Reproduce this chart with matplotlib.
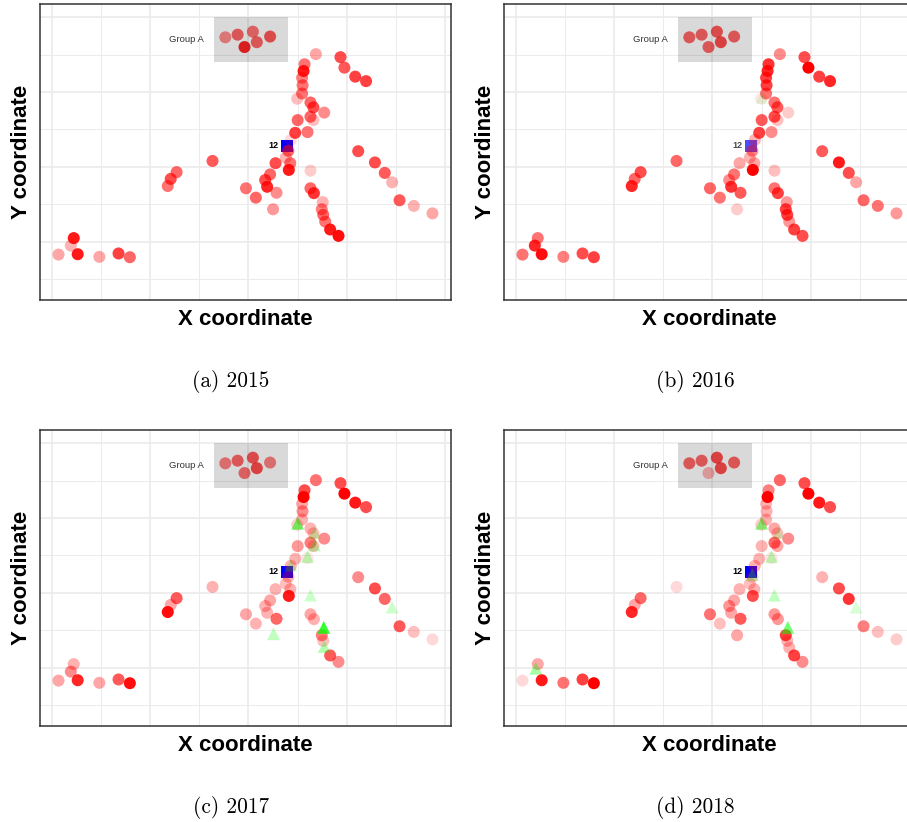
import numpy as np
import matplotlib.pyplot as plt
from matplotlib.patches import Rectangle

# ---- data ----
captions = ["(a) 2015", "(b) 2016", "(c) 2017", "(d) 2018"]

# red circles: same locations every year, only the opacity changes
pt_x = [3.53, 3.78, 4.09, 4.17, 3.92, 4.44,
        5.37, 5.87, 5.95, 6.17, 6.39,
        5.14, 5.12, 5.09, 5.10, 5.09, 4.99,
        5.26, 5.32, 5.54, 5.26, 5.32, 5.00, 4.95, 5.20, 4.86,
        4.81, 4.76, 4.85, 4.55, 4.82, 5.26,
        4.44, 4.34, 4.38, 4.57, 3.95, 4.15, 4.50,
        5.26, 5.33, 5.51, 5.49, 5.52, 5.56, 5.66, 5.83,
        6.23, 6.57, 6.77, 6.92, 7.07, 7.36, 7.74,
        3.27,
        2.54, 2.42, 2.36,
        0.45, 0.39, 0.53, 0.14, 0.97, 1.36, 1.59]
pt_y = [6.46, 6.53, 6.61, 6.33, 6.20, 6.48,
        6.01, 5.93, 5.65, 5.41, 5.29,
        5.74, 5.56, 5.38, 5.18, 4.96, 4.82,
        4.72, 4.59, 4.45, 4.34, 4.25, 4.25, 3.91, 3.93, 3.72,
        3.43, 3.25, 3.10, 3.10, 2.92, 2.90,
        2.80, 2.65, 2.47, 2.31, 2.43, 2.18, 1.87,
        2.43, 2.30, 2.06, 1.87, 1.72, 1.54, 1.33, 1.16,
        3.42, 3.12, 2.84, 2.59, 2.11, 1.96, 1.76,
        3.16,
        2.86, 2.68, 2.49,
        1.10, 0.90, 0.67, 0.66, 0.60, 0.69, 0.59]

alpha_2015 = [.45, .6, .55, .6, .85, .65,
              .35, .7, .65, .75, .75,
              .55, .9, .5, .55, .55, .25,
              .6, .7, .45, .6, .25, .6, .75, .55, .15,
              .6, .3, .55, .7, .9, .2,
              .6, .7, .85, .45, .55, .6, .4,
              .6, .8, .3, .5, .6, .55, .9, .95,
              .7, .7, .65, .3, .65, .3, .35,
              .65,
              .6, .7, .55,
              .9, .3, .9, .35, .35, .75, .6]
alpha_2016 = [.6, .6, .65, .7, .6, .6,
              .45, .7, 1.0, .75, .85,
              .8, .85, .75, .75, .55, .1,
              .55, .65, .2, .7, .25, .65, .75, .45, .3,
              .45, .3, .35, .35, 1.0, .25,
              .55, .45, .8, .65, .6, .55, .2,
              .55, .75, .4, .75, .75, .4, .75, .7,
              .65, .9, .7, .35, .6, .55, .4,
              .6,
              .7, .6, .85,
              .55, .85, .95, .55, .5, .7, .75]
alpha_2017 = [.5, .6, .65, .7, .55, .5,
              .55, .7, 1.0, .9, .7,
              .7, 1.0, .35, .45, .3, .2,
              .3, .25, .45, .5, .25, .4, .3, .1, .3,
              .3, .25, .3, .3, .9, 0,
              .35, .3, .3, .6, .35, .3, 0,
              .35, .3, 0, .5, .25, 0, .65, .45,
              .45, .7, .6, 0, .65, .25, .15,
              .3,
              .65, .35, .95,
              .3, .45, .85, .35, .35, .65, .95]
alpha_2018 = [.6, .6, .7, .7, .3, .6,
              .6, .7, 1.0, .9, .7,
              .5, 1.0, .3, .3, .3, .2,
              .35, .25, .45, .6, .35, .3, .3, .1, .3,
              .2, .25, .3, .3, .7, 0,
              .35, .4, .35, .65, .55, .25, .35,
              .4, .4, 0, .75, .3, .3, .75, .45,
              .3, .7, .8, 0, .5, .25, .2,
              .15,
              .6, .35, .85,
              .35, 0, .9, .15, .55, .75, 1.0]

# green triangles
tri_x = [5.00, 5.34, 5.34, 5.20, 4.86, 5.26, 5.53, 5.54, 4.51, 6.92, 4.81, 0.41]
tri_y = [4.86, 4.61, 4.28, 3.97, 3.74, 2.94, 2.08, 1.57, 1.91, 2.62, 3.49, 0.99]
tri_alpha_2015 = [0, 0, 0, 0, 0, 0, 0, 0, 0, 0, 0, 0]
tri_alpha_2016 = [.1, 0, 0, 0, 0, 0, 0, 0, 0, 0, 0, 0]
tri_alpha_2017 = [.55, .2, .25, .25, .2, .2, .8, .3, .25, .2, 0, 0]
tri_alpha_2018 = [.45, .15, 0, .25, 0, .25, .55, 0, 0, .15, .25, .35]

# blue square with its label
sq_x, sq_y = 4.78, 3.57
sq_label = "12"
sq_alpha = [1.0, 0.7, 1.0, 1.0]

# shaded group box
box_x0, box_x1, box_y0, box_y1 = 3.30, 4.80, 5.81, 6.99
box_label = "Group A"
box_label_x, box_label_y = 2.74, 6.40

circle_alphas = [alpha_2015, alpha_2016, alpha_2017, alpha_2018]
tri_alphas = [tri_alpha_2015, tri_alpha_2016, tri_alpha_2017, tri_alpha_2018]

# ---- figure ----
W, H = 907, 822
fig = plt.figure(figsize=(W / 100, H / 100), dpi=100)

panel_px = [(40.3, 4), (504.3, 4), (40.3, 430), (504.3, 430)]   # top-left of each axes
caption_px = [(231, 387.3), (695, 387.3), (231, 813.3), (695, 813.3)]
aw, ah = 410.7, 296

for i in range(4):
    left, top = panel_px[i]
    ax = fig.add_axes([left / W, 1 - (top + ah) / H, aw / W, ah / H])

    # grid like ggplot theme_bw
    ax.set_xticks([0, 2, 4, 6, 8])
    ax.set_xticks([1, 3, 5, 7], minor=True)
    ax.set_yticks([1, 3, 5, 7])
    ax.set_yticks([0, 2, 4, 6], minor=True)
    ax.tick_params(which='both', length=0, labelbottom=False, labelleft=False)
    ax.grid(which='major', color='#EBEBEB', lw=1.2)
    ax.grid(which='minor', color='#EBEBEB', lw=0.7)
    ax.set_axisbelow(True)
    for s in ax.spines.values():
        s.set_color('#333333')
        s.set_linewidth(1.1)

    ax.scatter([sq_x], [sq_y], marker='s', s=71, color='#0000FF',
               alpha=sq_alpha[i], linewidths=0, zorder=2)

    a = np.array(circle_alphas[i])
    keep = a > 0
    cols = [(1, 0, 0, v) for v in a[keep]]
    ax.scatter(np.array(pt_x)[keep], np.array(pt_y)[keep], s=75, c=cols,
               edgecolors='none', zorder=3)

    ta = np.array(tri_alphas[i])
    tk = ta > 0
    if tk.any():
        tcols = [(0, 1, 0, v) for v in ta[tk]]
        ax.scatter(np.array(tri_x)[tk], np.array(tri_y)[tk], marker='^', s=85,
                   c=tcols, edgecolors='none', zorder=4)

    ax.add_patch(Rectangle((box_x0, box_y0), box_x1 - box_x0, box_y1 - box_y0,
                           facecolor='black', alpha=0.15, edgecolor='none', zorder=5))
    ax.text(box_label_x, box_label_y, box_label, ha='center', va='center',
            fontsize=6.8, color='#333333', family='Liberation Sans', zorder=6)
    ax.annotate(sq_label, (sq_x, sq_y), xytext=(-6.1, 0), textcoords='offset points',
                ha='right', va='center', fontsize=6.5, fontweight='bold',
                family='Liberation Sans', alpha=sq_alpha[i], zorder=6)

    ax.set_xlim(-0.23, 8.116)
    ax.set_ylim(-0.552, 7.349)

    ax.set_xlabel("X coordinate", fontsize=16, fontweight='bold', family='Liberation Sans')
    ax.xaxis.set_label_coords(0.5, -0.0845)
    ax.xaxis.label.set_va('baseline')
    ax.set_ylabel("Y coordinate", fontsize=16, fontweight='bold', family='Liberation Sans')
    ax.yaxis.set_label_coords(-0.033, 0.5)
    ax.yaxis.label.set_va('baseline')

    cx, cy = caption_px[i]
    fig.text(cx / W, 1 - cy / H, captions[i], ha='center', va='baseline',
             family='cmr10', fontsize=15.4)

fig.savefig("out.png", dpi=100)
